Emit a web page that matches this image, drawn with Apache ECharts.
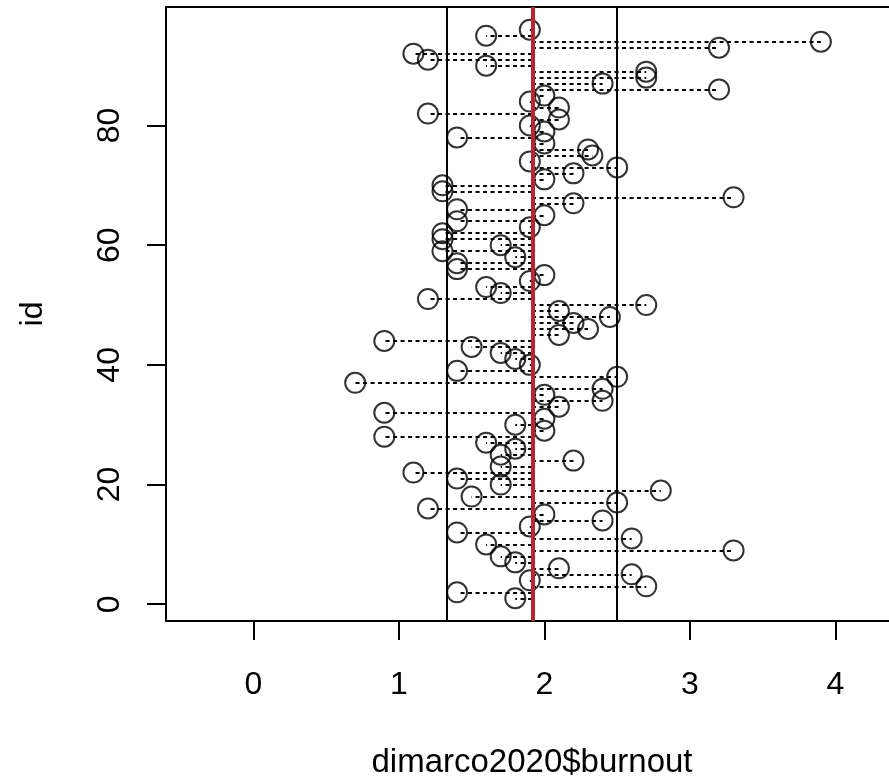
<!DOCTYPE html>
<html>
<head>
<meta charset="utf-8">
<script src="https://cdn.jsdelivr.net/npm/echarts@6/dist/echarts.min.js"></script>
<style>
  html, body { margin: 0; padding: 0; background: #fff; }
  #chart { width: 889px; height: 776px; }
</style>
</head>
<body>
<div id="chart"></div>
<script>
// Participant ids (1..96) and their burnout scores
const ids = Array.from({ length: 96 }, (_, i) => i + 1);
const burnout = [
  1.8, 1.4, 2.7, 1.9, 2.6, 2.1, 1.8, 1.7, 3.3, 1.6,
  2.6, 1.4, 1.9, 2.4, 2.0, 1.2, 2.5, 1.5, 2.8, 1.7,
  1.4, 1.1, 1.7, 2.2, 1.7, 1.8, 1.6, 0.9, 2.0, 1.8,
  2.0, 0.9, 2.1, 2.4, 2.0, 2.4, 0.7, 2.5, 1.4, 1.9,
  1.8, 1.7, 1.5, 0.9, 2.1, 2.3, 2.2, 2.45, 2.1, 2.7,
  1.2, 1.7, 1.6, 1.9, 2.0, 1.4, 1.4, 1.8, 1.3, 1.7,
  1.3, 1.3, 1.9, 1.4, 2.0, 1.4, 2.2, 3.3, 1.3, 1.3,
  2.0, 2.2, 2.5, 1.9, 2.33, 2.3, 2.0, 1.4, 2.0, 1.9,
  2.1, 1.2, 2.1, 1.9, 2.0, 3.2, 2.4, 2.7, 2.7, 1.6,
  1.2, 1.1, 3.2, 3.9, 1.6, 1.9
];
const xTicks = [0, 1, 2, 3, 4];
const yTicks = [0, 20, 40, 60, 80];

// Mean and standard deviation of the scores
const n = burnout.length;
const mean = burnout.reduce((a, b) => a + b, 0) / n;
const sd = Math.sqrt(burnout.reduce((a, b) => a + (b - mean) * (b - mean), 0) / (n - 1));

const FONT = '"Liberation Sans", Arial, Helvetica, sans-serif';

const points = ids.map((id, i) => [burnout[i], id]);
const segments = ids.map((id, i) => ({ coords: [[mean, id], [burnout[i], id]] }));

const chart = echarts.init(document.getElementById('chart'), null, { renderer: 'canvas' });
chart.setOption({
  animation: false,
  backgroundColor: '#fff',
  grid: {
    left: 166, top: 7, width: 732, height: 614,
    outerBoundsMode: 'none',
    containLabel: false,
    show: true, borderColor: '#000', borderWidth: 2, backgroundColor: 'transparent'
  },
  xAxis: {
    type: 'value', min: -0.6, max: 4.43,
    name: 'dimarco2020$burnout', nameLocation: 'middle', nameGap: 125,
    nameTextStyle: { fontFamily: FONT, fontSize: 33, color: '#000' },
    axisLine: { show: false, onZero: false },
    splitLine: { show: false },
    axisTick: { show: true, length: 19, lineStyle: { color: '#000', width: 2 }, customValues: xTicks },
    axisLabel: { fontFamily: FONT, fontSize: 32, color: '#000', margin: 48, customValues: xTicks }
  },
  yAxis: {
    type: 'value', min: -2.8, max: 99.8,
    name: 'id', nameLocation: 'middle', nameGap: 117, nameRotate: 90,
    nameTextStyle: { fontFamily: FONT, fontSize: 32, color: '#000' },
    axisLine: { show: false, onZero: false },
    splitLine: { show: false },
    axisTick: { show: true, length: 19, lineStyle: { color: '#000', width: 2 }, customValues: yTicks },
    axisLabel: { fontFamily: FONT, fontSize: 32, color: '#000', margin: 40, rotate: 90, customValues: yTicks }
  },
  series: [
    {
      type: 'lines',
      coordinateSystem: 'cartesian2d',
      polyline: false,
      silent: true,
      z: 2,
      lineStyle: { color: '#000', width: 2, type: [4, 3.5], opacity: 1 },
      data: segments
    },
    {
      type: 'scatter',
      z: 3,
      symbol: 'circle',
      symbolSize: 20,
      itemStyle: { color: 'rgba(0,0,0,0)', borderColor: '#000', borderWidth: 2 },
      data: points
    },
    {
      type: 'scatter',
      z: 4,
      data: [],
      markLine: {
        silent: true,
        symbol: 'none',
        label: { show: false },
        animation: false,
        data: [
          { xAxis: mean - sd, lineStyle: { color: '#000', width: 2, type: 'solid' } },
          { xAxis: mean + sd, lineStyle: { color: '#000', width: 2, type: 'solid' } },
          { xAxis: mean, lineStyle: { color: '#b8272a', width: 4, type: 'solid' } }
        ]
      }
    }
  ]
});
</script>
</body>
</html>
